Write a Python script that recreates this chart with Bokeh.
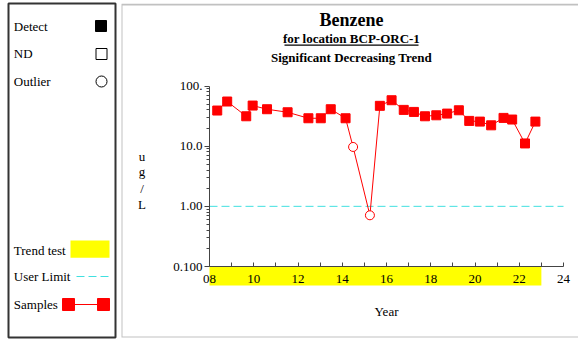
import numpy as np
from bokeh.plotting import figure
from bokeh.models import Range1d, FixedTicker, BoxAnnotation
from bokeh.layouts import row
from bokeh.embed import file_html
from bokeh.resources import INLINE
from bokeh.core.properties import value

# ---------------- data ----------------
years = [8.35, 8.80, 9.66, 9.95, 10.60, 11.53, 12.47, 13.03, 13.48, 14.15,
         14.49, 15.25, 15.70, 16.23, 16.78, 17.24, 17.74, 18.25, 18.74, 19.27,
         19.74, 20.22, 20.73, 21.29, 21.68, 22.26, 22.73]
values = [39.1, 55.2, 31.4, 47.3, 41.1, 36.6, 29.1, 29.1, 41.1, 29.1,
          9.7, 0.71, 46.8, 58.0, 40.1, 37.1, 31.4, 32.6, 34.8, 39.5,
          26.3, 25.6, 22.2, 29.5, 27.7, 11.1, 25.6]
flags = ["D"] * 10 + ["O", "O"] + ["D"] * 15   # D = detect, O = outlier

user_limit = 1.0
trend_start, trend_end = 8.0, 23.0

x_tick_vals = [8, 10, 12, 14, 16, 18, 20, 22, 24]
x_tick_labels = ["08", "10", "12", "14", "16", "18", "20", "22", "24"]
x_minor = [9, 11, 13, 15, 17, 19, 21, 23]
y_tick_vals = [0.1, 1, 10, 100]
y_tick_labels = ["0.100", "1.00", "10.0", "100."]

title = "Benzene"
subtitle = "for location BCP-ORC-1"
trend_text = "Significant Decreasing Trend"
x_label = "Year"
y_label_chars = ["u", "g", "/", "L"]
legend_labels = ["Detect", "ND", "Outlier", "Trend test", "User Limit", "Samples"]

FONT = "Liberation Serif"

# ---------------- layout (page pixels) ----------------
FIG_LEFT = 120                  # main figure starts here on the page
FR_L, FR_R, FR_T, FR_B = 121, 578, 3, 337
X_AX0, X_AX1 = 209, 563         # px of x = 8 and x = 24
Y_AX_TOP, Y_AX_BOT = 85.5, 266  # px of y = 100 and y = 0.1
BAND_PX = 19
MID13, MID18 = 4.4, 6.0         # baseline -> text middle offsets

x_lo_t, x_hi_t = x_tick_vals[0], x_tick_vals[-1]
ppy = (X_AX1 - X_AX0) / (x_hi_t - x_lo_t)
ppd = (Y_AX_BOT - Y_AX_TOP) / 3.0


def px2x(px):
    return x_lo_t + (px - X_AX0) / ppy


def px2y(py):
    return 10 ** (2 - (py - Y_AX_TOP) / ppd)


p = figure(width=578 - FIG_LEFT, height=339, y_axis_type="log",
           x_range=Range1d(px2x(FR_L), px2x(FR_R)),
           y_range=Range1d(px2y(FR_B), px2y(FR_T)),
           toolbar_location=None, output_backend="svg", title=None,
           min_border_left=FR_L - FIG_LEFT, min_border_right=0,
           min_border_top=FR_T, min_border_bottom=339 - FR_B)
p.outline_line_color = None
p.grid.visible = False
p.background_fill_color = "white"
p.border_fill_color = "white"

# trend test band (below the x axis)
p.quad(left=[trend_start], right=[trend_end],
       bottom=[px2y(Y_AX_BOT + BAND_PX)], top=[y_tick_vals[0]],
       fill_color="#FFFF00", line_color=None)

# user limit
p.segment(x0=[x_lo_t], x1=[x_hi_t], y0=[user_limit], y1=[user_limit],
          line_color="#40E0E0", line_width=1, line_dash="8 4")

p.line(years, values, line_color="red", line_width=1)
det_x = [x for x, f in zip(years, flags) if f == "D"]
det_y = [v for v, f in zip(values, flags) if f == "D"]
out_x = [x for x, f in zip(years, flags) if f == "O"]
out_y = [v for v, f in zip(values, flags) if f == "O"]
p.scatter(det_x, det_y, marker="square", size=9, fill_color="red", line_color="red")
p.scatter(out_x, out_y, marker="circle", size=9, fill_color="white", line_color="red",
          line_width=1)

xax = p.xaxis[0]
xax.fixed_location = y_tick_vals[0]
xax.bounds = (x_lo_t, x_hi_t)
xax.ticker = FixedTicker(ticks=x_tick_vals, minor_ticks=x_minor)
xax.major_label_overrides = dict(zip(x_tick_vals, x_tick_labels))
xax.major_tick_in = 4
xax.major_tick_out = 0
xax.minor_tick_in = 4
xax.minor_tick_out = 0
xax.major_label_standoff = 8

yax = p.yaxis[0]
yax.fixed_location = x_lo_t
yax.bounds = (y_tick_vals[0], y_tick_vals[-1])
yax.ticker = FixedTicker(ticks=y_tick_vals,
                         minor_ticks=[m * 10.0 ** d for d in (-1, 0, 1) for m in range(2, 10)])
yax.major_label_overrides = dict(zip(y_tick_vals, y_tick_labels))
yax.major_tick_in = 0
yax.major_tick_out = 5
yax.minor_tick_in = 0
yax.minor_tick_out = 3
yax.major_label_standoff = 2

for ax in (xax, yax):
    ax.axis_line_color = "#444444"
    ax.major_tick_line_color = "#444444"
    ax.minor_tick_line_color = "#444444"
    ax.major_label_text_font = FONT
    ax.major_label_text_font_size = "13px"
    ax.major_label_text_color = "black"

# titles
p.text(x=[px2x(351)], y=[px2y(25.7 - MID18)], text=[title], text_font=value(FONT),
       text_font_size="18px", text_font_style="bold", text_align="center",
       text_baseline="alphabetic", text_color="black")
p.text(x=[px2x(351)] * 2, y=[px2y(42.5 - MID13), px2y(61.7 - MID13)],
       text=[subtitle, trend_text],
       text_font=value(FONT), text_font_size="13px", text_font_style="bold",
       text_align="center", text_baseline="alphabetic", text_color="black")
# underline of the subtitle
p.segment(x0=[px2x(284)], x1=[px2x(418)], y0=[px2y(44.6)], y1=[px2y(44.6)],
          line_color="black", line_width=1.2)

# axis titles
p.text(x=[px2x(141.5)] * 4, y=[px2y(v - MID13) for v in (160.5, 175.5, 192, 208)],
       text=y_label_chars,
       text_font=value(FONT), text_font_size="13px", text_align="center",
       text_baseline="alphabetic", text_color="black")
p.text(x=[px2x(386)], y=[px2y(315 - MID13)], text=[x_label], text_font=value(FONT),
       text_font_size="13px", text_align="center", text_baseline="alphabetic",
       text_color="black")

# outer box of the chart panel (right edge lies off the page)
p.add_layout(BoxAnnotation(left=px2x(FR_L), right=px2x(FR_R + 20),
                           top=px2y(FR_T + 1), bottom=px2y(FR_B),
                           fill_alpha=0, line_color="#333333", line_width=2))

# ---------------- legend panel ----------------
leg = figure(width=FIG_LEFT, height=339, x_range=Range1d(8, 115), y_range=Range1d(FR_B, FR_T),
             x_axis_type=None, y_axis_type=None, toolbar_location=None,
             output_backend="svg", title=None,
             min_border_left=8, min_border_right=5, min_border_top=FR_T,
             min_border_bottom=339 - FR_B)
leg.outline_line_color = "#333333"
leg.outline_line_width = 2
leg.grid.visible = False

leg_text_y = [30.7, 57.3, 85.7, 254, 280.7, 308.3]
leg.text(x=[13.3] * 6, y=[v - MID13 for v in leg_text_y], text=legend_labels,
         text_font=value(FONT), text_font_size="13px", text_baseline="alphabetic",
         text_align="left", text_color="black")
leg.scatter([100.5], [25.5], marker="square", size=11, fill_color="black", line_color="black")
leg.scatter([101], [53.5], marker="square", size=11, fill_color="white", line_color="black",
            line_width=1)
leg.scatter([101], [81], marker="circle", size=11, fill_color="white", line_color="black",
            line_width=1)
leg.quad(left=[70], right=[109], top=[240], bottom=[257.3], fill_color="#FFFF00", line_color=None)
leg.line([76, 109], [276, 276], line_color="#40E0E0", line_width=1, line_dash="8 4")
leg.line([68, 103], [304, 304], line_color="red", line_width=1)
leg.scatter([68, 103], [304, 304], marker="square", size=12, fill_color="red", line_color="red")

layout = row(leg, p)
open("out.html", "w").write(file_html(layout, INLINE))
